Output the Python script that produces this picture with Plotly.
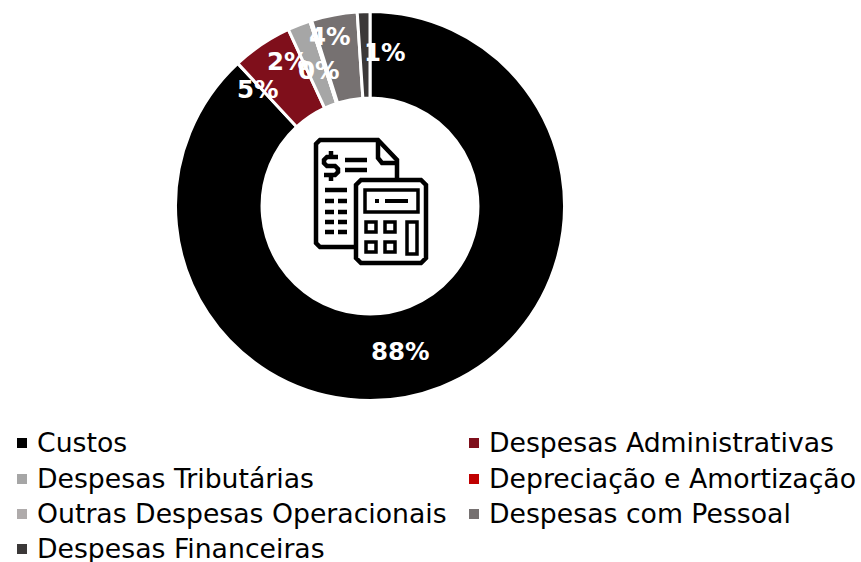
import plotly.graph_objects as go

categories = ["Custos", "Despesas Administrativas", "Despesas Tributárias", "Depreciação e Amortização",
              "Outras Despesas Operacionais", "Despesas com Pessoal", "Despesas Financeiras"]
values = [88.1, 5.0, 1.9, 0.0, 0.15, 3.8, 1.05]
colors = ["#000000", "#7F0F1B", "#A6A6A6", "#C00000", "#AFABAB", "#767171", "#3B3838"]
pct_labels = ["88%", "5%", "2%", "0%", "4%", "1%"]

W, H = 861, 562
FONT = "DejaVu Sans"
CX, CY, R = 370, 206, 194.5


def px(x):
    return x / W


def py(y):
    return 1 - y / H


def path(points, close=False):
    s = "M" + " L".join(f"{px(x):.5f},{py(y):.5f}" for x, y in points)
    return s + (" Z" if close else "")


def stroke(points, width=4.5, close=False):
    return dict(type="path", xref="paper", yref="paper", path=path(points, close),
                line=dict(color="black", width=width), layer="above")


def rrect(x0, y0, x1, y1, r=3):
    if r == 0:
        return [(x0, y0), (x1, y0), (x1, y1), (x0, y1)]
    return [(x0 + r, y0), (x1 - r, y0), (x1, y0 + r), (x1, y1 - r), (x1 - r, y1), (x0 + r, y1), (x0, y1 - r), (x0, y0 + r)]


fig = go.Figure(go.Pie(
    labels=categories, values=values, sort=False, direction="clockwise", rotation=0,
    hole=0.555, marker=dict(colors=colors, line=dict(color="white", width=3)),
    textinfo="none", showlegend=False,
    domain=dict(x=[(CX - R) / W, (CX + R) / W], y=[1 - (CY + R) / H, 1 - (CY - R) / H]),
))

annotations = []
shapes = []

# percent labels
label_pos = [(400, 351), (258, 89), (288, 61), (319, 71), (330, 36), (385, 53)]
for t, (x, y) in zip(pct_labels, label_pos):
    annotations.append(dict(text=f"<b>{t}</b>", x=px(x), y=py(y), xref="paper", yref="paper", showarrow=False,
                            xanchor="center", yanchor="middle", font=dict(family=FONT, size=24.5, color="white")))

# legend
legend_pos = [(17, 443), (469, 443), (17, 479), (469, 479), (17, 514), (469, 514), (17, 549)]
for cat, col, (x, y) in zip(categories, colors, legend_pos):
    shapes.append(dict(type="rect", xref="paper", yref="paper", x0=px(x), x1=px(x + 10),
                       y0=py(y + 5), y1=py(y - 5), fillcolor=col, line=dict(width=0)))
    annotations.append(dict(text=cat, x=px(x + 18), y=py(y - 0.5), xref="paper", yref="paper", showarrow=False,
                            xanchor="left", yanchor="middle", font=dict(family=FONT, size=26.7, color="black")))

# icon: document
shapes.append(stroke([(355, 247), (320, 247), (316, 243), (316, 144), (320, 140), (378, 140), (397, 160), (397, 179)]))
shapes.append(stroke([(378, 140), (378, 158), (382, 163), (397, 163)]))
for a, b, y in [(345, 367, 160), (345, 367, 170), (325, 347, 190)]:
    shapes.append(stroke([(a, y), (b, y)]))
for y in [201, 212, 222, 232]:
    shapes.append(stroke([(325, y), (334, y)]))
    shapes.append(stroke([(338, y), (347, y)]))
# dollar sign
shapes.append(stroke([(338, 157), (327, 157), (324, 160), (324, 163), (327, 166), (335, 166), (338, 169),
                      (338, 172), (335, 175), (324, 175)]))
shapes.append(stroke([(331, 151), (331, 157)]))
shapes.append(stroke([(331, 175), (331, 181)]))
# icon: calculator
shapes.append(dict(type="path", xref="paper", yref="paper", path=path(rrect(356, 180, 426, 263, 5), True),
                   fillcolor="white", line=dict(color="black", width=4.5), layer="above"))
shapes.append(stroke(rrect(365, 190, 418, 212, 0), 3.5, True))
shapes.append(stroke([(375, 201), (379, 201)], 4))
shapes.append(stroke([(385, 201), (408, 201)], 4))
for x0 in (366, 385):
    for y0 in (222, 242):
        shapes.append(stroke(rrect(x0, y0, x0 + 10, y0 + 10, 0), 3.5, True))
shapes.append(stroke(rrect(407, 222, 417, 254, 0), 3.5, True))

fig.update_layout(width=W, height=H, margin=dict(l=0, r=0, t=0, b=0), paper_bgcolor="white",
                  plot_bgcolor="white", showlegend=False, annotations=annotations, shapes=shapes,
                  font=dict(family=FONT))
fig.write_html("out.html", config={"displayModeBar": False},
               post_script="document.body.style.margin='0';document.body.style.overflow='hidden';")
